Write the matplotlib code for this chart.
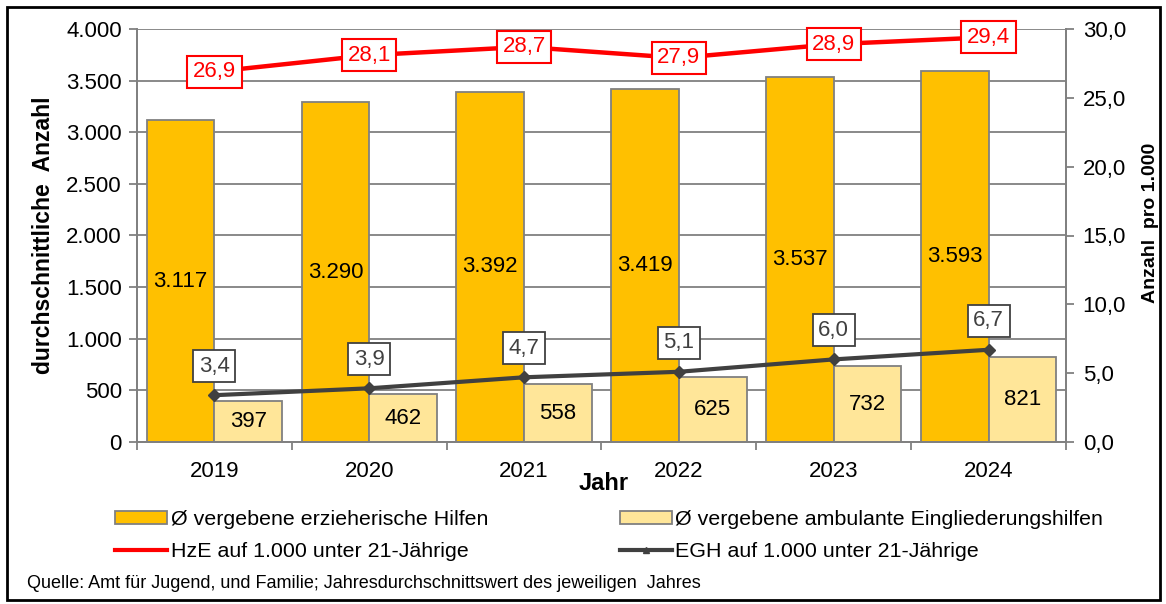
import matplotlib
matplotlib.use("Agg")
import matplotlib.pyplot as plt
import numpy as np
from matplotlib.patches import Rectangle
from matplotlib.ticker import FuncFormatter
from matplotlib.lines import Line2D

plt.rcParams["font.family"] = ["Liberation Sans", "DejaVu Sans"]

years = ["2019", "2020", "2021", "2022", "2023", "2024"]
hze_count = [3117, 3290, 3392, 3419, 3537, 3593]
egh_count = [397, 462, 558, 625, 732, 821]
hze_rate = [26.9, 28.1, 28.7, 27.9, 28.9, 29.4]
egh_rate = [3.4, 3.9, 4.7, 5.1, 6.0, 6.7]

ORANGE = "#FFC000"
LIGHT = "#FFE699"
EDGE = "#808080"
RED = "#FF0000"
DARK = "#404040"
FS = 16


def de_int(v, pos=None):
    return f"{int(v):,}".replace(",", ".")


def de_dec(v, pos=None):
    return f"{v:.1f}".replace(".", ",")


fig = plt.figure(figsize=(11.66, 6.04), dpi=100)
ax = fig.add_axes([137 / 1166, 1 - 442 / 604, (1066 - 137) / 1166, (442 - 29) / 604])
ax2 = ax.twinx()

x = np.arange(len(years))
w = 0.437
ax.bar(x - w / 2, hze_count, w, color=ORANGE, edgecolor=EDGE, linewidth=1.3, zorder=2)
ax.bar(x + w / 2, egh_count, w, color=LIGHT, edgecolor=EDGE, linewidth=1.3, zorder=2)

for i in range(len(years)):
    ax.text(x[i] - w / 2, hze_count[i] / 2, de_int(hze_count[i]), ha="center", va="center",
            fontsize=FS, zorder=3)
    ax.text(x[i] + w / 2, egh_count[i] / 2, de_int(egh_count[i]), ha="center", va="center",
            fontsize=FS, zorder=3)

ax.set_xlim(-0.5, len(years) - 0.5)
ax.set_ylim(0, 4000)
ax.set_yticks(np.arange(0, 4001, 500))
ax.yaxis.set_major_formatter(FuncFormatter(de_int))
ax.set_xticks(x)
ax.set_xticklabels(years)
ax.set_xticks(np.arange(-0.5, len(years), 1), minor=True)
ax.tick_params(axis="x", which="major", length=0, labelsize=FS, pad=14)
ax.tick_params(axis="x", which="minor", length=6, color=EDGE, width=1.3)
ax.tick_params(axis="y", labelsize=FS, length=6, color=EDGE, width=1.3, pad=5)
ax.grid(axis="y", color=EDGE, linewidth=1.3, zorder=0)
ax.set_axisbelow(True)
for s in ax.spines.values():
    s.set_color(EDGE)
    s.set_linewidth(1.3)
ax.spines["top"].set_visible(False)

ax2.plot(x, hze_rate, color=RED, linewidth=3.2, zorder=4)
ax2.plot(x, egh_rate, color=DARK, linewidth=3, marker="D", markersize=6, zorder=4)
ax2.set_ylim(0, 30)
ax2.set_yticks(np.arange(0, 30.1, 5))
ax2.yaxis.set_major_formatter(FuncFormatter(de_dec))
ax2.tick_params(axis="y", labelsize=FS, length=6, color=EDGE, width=1.3, pad=6)
for s in ax2.spines.values():
    s.set_color(EDGE)
    s.set_linewidth(1.3)
ax2.spines["top"].set_visible(False)

for i in range(len(years)):
    ax2.text(x[i], hze_rate[i], de_dec(hze_rate[i]), ha="center", va="center", color=RED,
             fontsize=FS, zorder=5,
             bbox=dict(boxstyle="square,pad=0.25", facecolor="white", edgecolor=RED, linewidth=1.5))
    ax2.annotate(de_dec(egh_rate[i]), (x[i], egh_rate[i]), xytext=(0, 21), textcoords="offset points",
                 ha="center", va="center", color=DARK, fontsize=FS, zorder=5,
                 bbox=dict(boxstyle="square,pad=0.25", facecolor="white", edgecolor=DARK, linewidth=1.3))

ax.set_ylabel("durchschnittliche  Anzahl", fontsize=FS + 0.5, fontweight="bold", labelpad=8)
ax2.set_ylabel("Anzahl  pro 1.000", fontsize=14, fontweight="bold")
ax2.yaxis.set_label_coords((1142 - 137) / (1066 - 137), (442 - 223) / 413)
fig.text(604 / 1166, 1 - 484 / 604, "Jahr", ha="center", va="center", fontsize=17, fontweight="bold")

handles = [
    Rectangle((0, 0), 1, 1, facecolor=ORANGE, edgecolor=EDGE, linewidth=1.3),
    Line2D([0], [0], color=RED, linewidth=3),
    Rectangle((0, 0), 1, 1, facecolor=LIGHT, edgecolor=EDGE, linewidth=1.3),
    Line2D([0], [0], color=DARK, linewidth=3, marker="^", markersize=4),
]
labels = [
    "Ø vergebene erzieherische Hilfen",
    "HzE auf 1.000 unter 21-Jährige",
    "Ø vergebene ambulante Eingliederungshilfen",
    "EGH auf 1.000 unter 21-Jährige",
]
fig.legend(handles, labels, ncol=2, loc="upper left", bbox_to_anchor=(115 / 1166, 1 - 510 / 604),
           frameon=False, fontsize=15.4, handlelength=2.45, handleheight=0.5, handletextpad=0.15,
           columnspacing=6.15, labelspacing=0.62, borderaxespad=0, borderpad=0)

fig.text(27 / 1166, 1 - 583 / 604,
         "Quelle: Amt für Jugend, und Familie; Jahresdurchschnittswert des jeweiligen  Jahres",
         ha="left", va="center", fontsize=13)

fig.patches.append(Rectangle((7 / 1166, 1 - 600 / 604), 1153 / 1166, 593 / 604, transform=fig.transFigure,
                             fill=False, edgecolor="black", linewidth=2))

fig.savefig("out.png", dpi=100)
